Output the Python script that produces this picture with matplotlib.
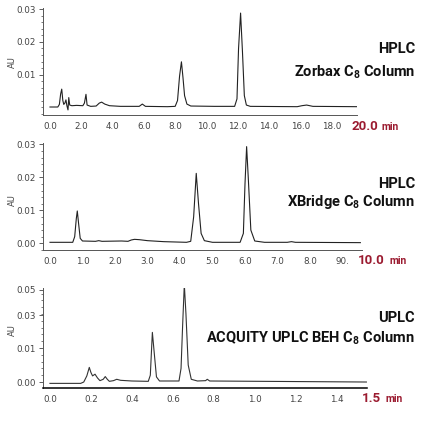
import matplotlib
matplotlib.use("Agg")
import matplotlib.pyplot as plt
from matplotlib.ticker import MultipleLocator

W, H = 430, 428

# chromatogram traces (time in min, absorbance in AU)
zorbax_t = [0.0, 0.5, 0.6, 0.68, 0.75, 0.82, 0.88, 0.95, 1.02, 1.08, 1.15, 1.2, 1.26, 1.4, 1.7,
            2.1, 2.2, 2.3, 2.37, 2.6, 2.95, 3.15, 3.3, 3.5, 3.8, 4.5, 5.7, 5.9, 6.1, 7.5,
            8.0, 8.15, 8.28, 8.4, 8.5, 8.6, 8.75, 9.0, 10.5, 11.8, 11.95, 12.05, 12.18, 12.3,
            12.42, 12.55, 12.8, 15.8, 16.1, 16.4, 16.8, 19.6]
zorbax_au = [0.0, 0.0, 0.0008, 0.004, 0.0055, 0.002, 0.0008, 0.0012, 0.0022, 0.0004, -0.0009,
             0.0029, 0.0006, 0.0004, 0.0005, 0.0004, 0.0012, 0.0039, 0.0006, 0.0002, 0.0003,
             0.0012, 0.0015, 0.0009, 0.0004, 0.0002, 0.0002, 0.0009, 0.0002, 0.0001, 0.0002,
             0.002, 0.0095, 0.0139, 0.009, 0.0035, 0.0009, 0.0003, 0.0002, 0.0002, 0.0025,
             0.018, 0.0289, 0.017, 0.0035, 0.0006, 0.0002, 0.0001, 0.0004, 0.0006, 0.0002, 0.0001]

xbridge_t = [0.0, 0.7, 0.76, 0.81, 0.84, 0.88, 0.93, 1.0, 1.4, 1.5, 1.6, 2.2, 2.4, 2.5, 2.6,
             2.75, 3.0, 3.5, 4.2, 4.33, 4.42, 4.5, 4.57, 4.65, 4.75, 5.0, 5.85, 5.95, 6.0,
             6.05, 6.1, 6.18, 6.3, 6.6, 7.3, 7.43, 7.55, 9.55]
xbridge_au = [0.0003, 0.0003, 0.002, 0.0075, 0.0098, 0.006, 0.0015, 0.0007, 0.0006, 0.0008,
              0.0006, 0.0007, 0.0006, 0.001, 0.0012, 0.0011, 0.0008, 0.0005, 0.0003, 0.0006,
              0.008, 0.0212, 0.012, 0.003, 0.0008, 0.0003, 0.0003, 0.003, 0.018, 0.0293, 0.02,
              0.004, 0.0007, 0.0003, 0.0003, 0.0005, 0.0003, 0.0002]

uplc_t = [0.0, 0.15, 0.165, 0.18, 0.192, 0.2, 0.208, 0.22, 0.232, 0.244, 0.26, 0.27, 0.28,
          0.29, 0.31, 0.326, 0.345, 0.4, 0.48, 0.49, 0.5, 0.51, 0.52, 0.535, 0.63, 0.64,
          0.648, 0.656, 0.664, 0.675, 0.69, 0.72, 0.76, 0.768, 0.78, 1.545]
uplc_au = [-0.0004, -0.0004, 0.0, 0.0018, 0.0043, 0.0028, 0.0018, 0.0023, 0.0012, 0.0004,
           0.0008, 0.0016, 0.0008, 0.0002, 0.0004, 0.0008, 0.0005, 0.0003, 0.0002, 0.002,
           0.0146, 0.008, 0.0015, 0.0003, 0.0003, 0.004, 0.017, 0.0287, 0.02, 0.005, 0.0008,
           0.0003, 0.0004, 0.0008, 0.0003, 0.0]

# tick labels
zorbax_xticks = [0, 2, 4, 6, 8, 10, 12, 14, 16, 18]
zorbax_xlabels = ["0.0", "2.0", "4.0", "6.0", "8.0", "10.0", "12.0", "14.0", "16.0", "18.0"]
zorbax_yticks = [0.01, 0.02, 0.03]
zorbax_ylabels = ["0.01", "0.02", "0.03"]

xbridge_xticks = [0, 1, 2, 3, 4, 5, 6, 7, 8, 9]
xbridge_xlabels = ["0.0", "1.0", "2.0", "3.0", "4.0", "5.0", "6.0", "7.0", "8.0", "90."]
xbridge_yticks = [0.0, 0.01, 0.02, 0.03]
xbridge_ylabels = ["0.00", "0.01", "0.02", "0.03"]

uplc_xticks = [0.0, 0.2, 0.4, 0.6, 0.8, 1.0, 1.2, 1.4]
uplc_xlabels = ["0.0", "0.2", "0.4", "0.6", "0.8", "1.0", "1.2", "1.4"]
uplc_yticks = [0.0, 0.01, 0.0197, 0.0271]
uplc_ylabels = ["0.00", "0.01", "0.03", "0.05"]

titles = [("HPLC", "Zorbax C$_\\mathregular{8}$ Column"),
          ("HPLC", "XBridge C$_\\mathregular{8}$ Column"),
          ("UPLC", "ACQUITY UPLC BEH C$_\\mathregular{8}$ Column")]
end_labels = [("20.0", "min"), ("10.0", "min"), ("1.5", "min")]

RED = "#9b1b30"
TICK_C = "#444444"
TITLE_FONT = "Roboto"

fig = plt.figure(figsize=(W / 100, H / 100), dpi=100)


def fx(px):
    return px / W


def fy(py):
    return 1 - py / H


def make_axes(left, right, top, bottom, xlim, ylim):
    ax = fig.add_axes([fx(left), fy(bottom), fx(right - left), (bottom - top) / H])
    ax.set_xlim(*xlim)
    ax.set_ylim(*ylim)
    for s in ["top", "right"]:
        ax.spines[s].set_visible(False)
    ax.spines["left"].set_color("#555555")
    ax.spines["left"].set_linewidth(0.7)
    ax.spines["bottom"].set_color("#555555")
    ax.spines["bottom"].set_linewidth(0.7)
    ax.tick_params(axis="x", length=0, pad=5, labelsize=6.3, colors=TICK_C)
    ax.tick_params(axis="y", which="major", length=3, width=0.6, pad=2,
                   labelsize=6.3, colors=TICK_C)
    ax.tick_params(axis="y", which="minor", length=1.8, width=0.5, colors=TICK_C)
    ax.patch.set_alpha(0)
    return ax


panels = [
    dict(box=(43, 357, 8, 115), xlim=(-0.447, 19.62), ylim=(-0.00246, 0.03046),
         t=zorbax_t, au=zorbax_au, xt=zorbax_xticks, xl=zorbax_xlabels,
         yt=zorbax_yticks, yl=zorbax_ylabels, title_y=(49, 72), au_y=62,
         red_y=126, red_x=(352, 380), lc="#222222"),
    dict(box=(43, 362, 143, 250), xlim=(-0.215, 9.6), ylim=(-0.00203, 0.0304),
         t=xbridge_t, au=xbridge_au, xt=xbridge_xticks, xl=xbridge_xlabels,
         yt=xbridge_yticks, yl=xbridge_ylabels, title_y=(184, 202), au_y=200,
         red_y=260, red_x=(358, 388), lc="#222222"),
    dict(box=(43, 367, 288, 388), xlim=(-0.034, 1.548), ylim=(-0.00176, 0.02765),
         t=uplc_t, au=uplc_au, xt=uplc_xticks, xl=uplc_xlabels,
         yt=uplc_yticks, yl=uplc_ylabels, title_y=(318, 338), au_y=330,
         red_y=399, red_x=(362, 384), lc="#333333"),
]

for i, p in enumerate(panels):
    ax = make_axes(*p["box"], p["xlim"], p["ylim"])
    ax.plot(p["t"], p["au"], color=p["lc"], lw=0.8)
    ax.set_xticks(p["xt"])
    ax.set_xticklabels(p["xl"])
    ax.set_yticks(p["yt"])
    ax.set_yticklabels(p["yl"])
    ax.yaxis.set_minor_locator(MultipleLocator(0.002))
    if i == 2:
        ax.spines["bottom"].set_color("black")
        ax.spines["bottom"].set_linewidth(1.1)

    fig.text(fx(12), fy(p["au_y"]), "AU", rotation=90, ha="center", va="center",
             fontsize=6, color=TICK_C)

    t1, t2 = titles[i]
    fig.text(fx(415), fy(p["title_y"][0]), t1, ha="right", va="center",
             fontsize=10.5, family=TITLE_FONT, weight="bold", color="#111111")
    fig.text(fx(415), fy(p["title_y"][1]), t2, ha="right", va="center",
             fontsize=10.5, family=TITLE_FONT, weight="bold", color="#111111")

    num, unit = end_labels[i]
    fig.text(fx(p["red_x"][0]), fy(p["red_y"]), num, ha="left", va="center",
             fontsize=9.5, family=TITLE_FONT, weight="bold", color=RED)
    fig.text(fx(p["red_x"][1] + 1), fy(p["red_y"] + 0.5), unit, ha="left", va="center",
             fontsize=7.5, family=TITLE_FONT, weight="bold", color=RED)

fig.savefig("out.png", dpi=100)
